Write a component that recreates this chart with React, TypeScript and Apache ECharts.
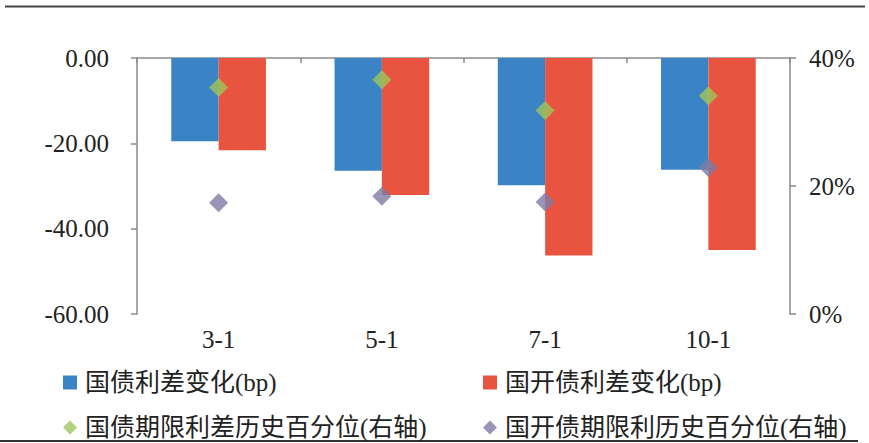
import React, { useEffect, useRef } from "react";
import * as echarts from "echarts";

// Term categories
const categories = ["3-1", "5-1", "7-1", "10-1"];

// Spread changes (bp), left axis
const govSpreadChange = [-19.5, -26.4, -29.8, -26.2];
const cdbSpreadChange = [-21.6, -32.1, -46.3, -45.0];

// Historical percentiles (%), right axis
const govTermPercentile = [35.4, 36.6, 31.8, 34.1];
const cdbTermPercentile = [17.4, 18.4, 17.5, 22.9];

// Series names
const seriesNames = [
  "国债利差变化(bp)",
  "国开债利差变化(bp)",
  "国债期限利差历史百分位(右轴)",
  "国开债期限利历史百分位(右轴)",
];

const COLORS = ["#3A84C5", "#E8543F", "#9DC65B", "#7E7BA6"];
const SERIF = "'Liberation Serif', 'Times New Roman', serif";
const LEGEND_FONT = "'Liberation Serif', 'Noto Sans CJK SC', serif";
const AXIS_GRAY = "#8a8a8a";

export default function App() {
  const ref = useRef<HTMLDivElement>(null);

  useEffect(() => {
    if (!ref.current) return;
    const chart = echarts.init(ref.current, undefined, { renderer: "svg" });

    const legendBase = (name: string, icon: string, left: number, top: number) => ({
      data: [{ name, icon }],
      left,
      top,
      itemWidth: 14,
      itemHeight: 14,
      selectedMode: false,
      textStyle: {
        fontFamily: LEGEND_FONT,
        fontSize: 25,
        color: "#222",
        padding: [0, 0, 0, 3],
      },
    });

    chart.setOption({
      animation: false,
      backgroundColor: "#fff",
      grid: { left: 137, right: 79, top: 58, bottom: 129 },
      legend: [
        legendBase(seriesNames[0], "rect", 58, 365),
        legendBase(seriesNames[1], "rect", 478, 365),
        legendBase(seriesNames[2], "diamond", 58, 410),
        legendBase(seriesNames[3], "diamond", 478, 410),
      ],
      xAxis: [
        {
          type: "category",
          data: categories,
          position: "bottom",
          axisLine: { show: false, onZero: false },
          axisTick: { show: false },
          axisLabel: {
            fontFamily: SERIF,
            fontSize: 25,
            color: "#222",
            margin: 13,
          },
        },
        {
          type: "category",
          data: categories,
          position: "top",
          axisLine: { show: true, onZero: false, lineStyle: { color: AXIS_GRAY, width: 1.5 } },
          axisTick: { show: true, inside: true, length: 5, lineStyle: { color: AXIS_GRAY, width: 1.5 } },
          axisLabel: { show: false },
        },
      ],
      yAxis: [
        {
          type: "value",
          min: -60,
          max: 0,
          interval: 20,
          position: "left",
          splitLine: { show: false },
          axisLine: { show: true, lineStyle: { color: AXIS_GRAY, width: 1.5 } },
          axisTick: { show: true, length: 6, lineStyle: { color: AXIS_GRAY, width: 1.5 } },
          axisLabel: {
            fontFamily: SERIF,
            fontSize: 25,
            color: "#222",
            margin: 28,
            formatter: (v: number) => v.toFixed(2),
          },
        },
        {
          type: "value",
          min: 0,
          max: 40,
          interval: 20,
          position: "right",
          splitLine: { show: false },
          axisLine: { show: true, lineStyle: { color: AXIS_GRAY, width: 1.5 } },
          axisTick: { show: true, length: 6, lineStyle: { color: AXIS_GRAY, width: 1.5 } },
          axisLabel: {
            fontFamily: SERIF,
            fontSize: 25,
            color: "#222",
            margin: 19,
            formatter: "{value}%",
          },
        },
      ],
      series: [
        {
          name: seriesNames[0],
          type: "bar",
          xAxisIndex: 0,
          yAxisIndex: 0,
          data: govSpreadChange,
          itemStyle: { color: COLORS[0] },
          barGap: "0%",
          barCategoryGap: "42%",
        },
        {
          name: seriesNames[1],
          type: "bar",
          xAxisIndex: 0,
          yAxisIndex: 0,
          data: cdbSpreadChange,
          itemStyle: { color: COLORS[1] },
          barGap: "0%",
          barCategoryGap: "42%",
        },
        {
          name: seriesNames[2],
          type: "scatter",
          xAxisIndex: 0,
          yAxisIndex: 1,
          data: govTermPercentile,
          symbol: "diamond",
          symbolSize: 19,
          itemStyle: { color: COLORS[2] },
          z: 5,
        },
        {
          name: seriesNames[3],
          type: "scatter",
          xAxisIndex: 0,
          yAxisIndex: 1,
          data: cdbTermPercentile,
          symbol: "diamond",
          symbolSize: 19,
          itemStyle: { color: COLORS[3] },
          z: 5,
        },
      ],
      graphic: [
        {
          type: "line",
          shape: { x1: 5, y1: 6.5, x2: 865, y2: 6.5 },
          style: { stroke: "#444", lineWidth: 2 },
        },
        {
          type: "line",
          shape: { x1: 0, y1: 441, x2: 858, y2: 441 },
          style: { stroke: "#333", lineWidth: 2 },
        },
      ],
    });

    return () => chart.dispose();
  }, []);

  return (
    <div
      ref={ref}
      style={{ position: "fixed", left: 0, top: 0, width: 869, height: 443 }}
    />
  );
}
